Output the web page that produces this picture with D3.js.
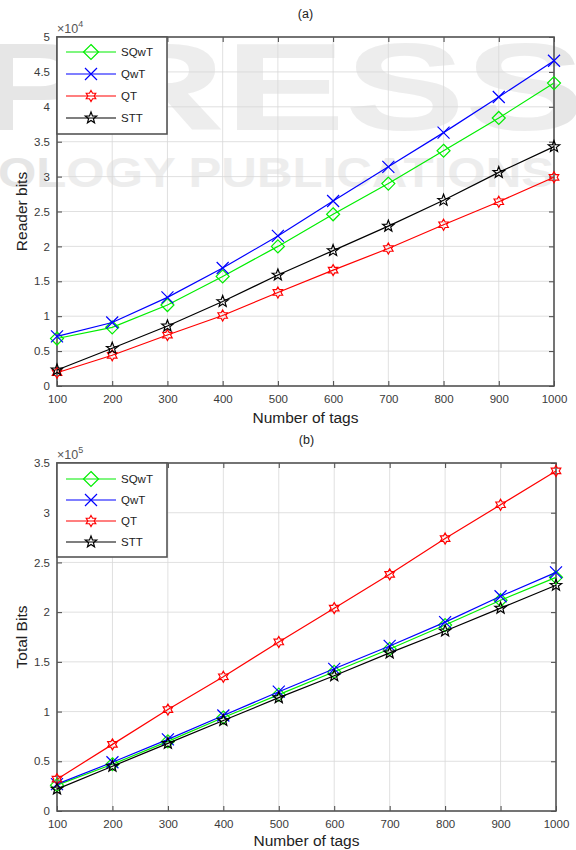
<!DOCTYPE html>
<html>
<head>
<meta charset="utf-8">
<script src="https://cdn.jsdelivr.net/npm/d3@7"></script>
<style>
  body { margin: 0; background: #fff; }
  svg { display: block; font-family: "Liberation Sans", Arial, sans-serif; }
</style>
</head>
<body>
<div id="chart"></div>
<script>
// data
const tags = [100, 200, 300, 400, 500, 600, 700, 800, 900, 1000];
const seriesNames = ["SQwT", "QwT", "QT", "STT"];

// (a) reader bits, x 1e4
const readerSQwT = [0.68, 0.84, 1.16, 1.57, 2.00, 2.46, 2.90, 3.37, 3.84, 4.34];
const readerQwT  = [0.71, 0.91, 1.27, 1.69, 2.15, 2.65, 3.14, 3.63, 4.14, 4.66];
const readerQT   = [0.19, 0.44, 0.73, 1.01, 1.34, 1.66, 1.97, 2.31, 2.64, 2.99];
const readerSTT  = [0.23, 0.54, 0.86, 1.21, 1.59, 1.94, 2.29, 2.66, 3.06, 3.43];

// (b) total bits, x 1e5
const totalSQwT = [0.26, 0.47, 0.70, 0.94, 1.17, 1.40, 1.63, 1.87, 2.12, 2.35];
const totalQwT  = [0.27, 0.49, 0.72, 0.96, 1.20, 1.43, 1.66, 1.90, 2.16, 2.40];
const totalQT   = [0.32, 0.67, 1.02, 1.35, 1.70, 2.04, 2.38, 2.74, 3.08, 3.42];
const totalSTT  = [0.22, 0.45, 0.68, 0.91, 1.14, 1.36, 1.59, 1.81, 2.04, 2.27];

const yTicks = [0, 0.5, 1, 1.5, 2, 2.5, 3, 3.5, 4, 4.5, 5];
const yTicksB = [0, 0.5, 1, 1.5, 2, 2.5, 3, 3.5];

const colors = {SQwT: "#00ee00", QwT: "#0000ff", QT: "#ff0000", STT: "#000000"};
const markers = {SQwT: "diamond", QwT: "cross", QT: "hexagram", STT: "pentagram"};

const width = 576, height = 850;

const svg = d3.select("#chart").append("svg")
    .attr("width", width)
    .attr("height", height);

// faint publisher watermark behind everything
let wm = svg.append("g").attr("class", "watermark").attr("fill", "#e6e6e6")
    .style("font-weight", "bold");
wm.append("text")
    .attr("x", -25).attr("y", 130)
    .attr("textLength", 610)
    .attr("lengthAdjust", "spacingAndGlyphs")
    .style("font-size", "124px")
    .text("PRESS");
wm.append("text")
    .attr("x", -2).attr("y", 187)
    .attr("textLength", 556)
    .attr("lengthAdjust", "spacingAndGlyphs")
    .style("font-size", "42px")
    .text("OLOGY PUBLICATIONS");

function symbolPath(kind, r){
  if (kind === "diamond"){
    return `M0,${-r}L${r},0L0,${r}L${-r},0Z`;
  }
  if (kind === "cross"){
    return `M${-r},${-r}L${r},${r}M${-r},${r}L${r},${-r}`;
  }
  let pts = [];
  let n = kind === "hexagram" ? 6 : 5;
  let inner = kind === "hexagram" ? r * 0.58 : r * 0.42;
  for (let i = 0; i < n * 2; i++){
    let a = -Math.PI / 2 + i * Math.PI / n;
    let rr = i % 2 === 0 ? r : inner;
    pts.push([rr * Math.cos(a), rr * Math.sin(a)]);
  }
  return "M" + pts.map(p => p[0].toFixed(2) + "," + p[1].toFixed(2)).join("L") + "Z";
}

const markerSize = {diamond: 6.5, cross: 6, hexagram: 5.5, pentagram: 6};

function drawPanel(cfg){
  let g = svg.append("g");

  let x = d3.scaleLinear().domain([100, 1000]).range([cfg.left, cfg.right]);
  let y = d3.scaleLinear().domain([0, cfg.yMax]).range([cfg.bottom, cfg.top]);

  // plot background
  g.append("rect")
    .attr("x", cfg.left).attr("y", cfg.top)
    .attr("width", cfg.right - cfg.left).attr("height", cfg.bottom - cfg.top)
    .attr("fill", "#fff").attr("fill-opacity", 0.3);

  // grid
  g.append("g")
    .selectAll("line.vg")
    .data(tags)
    .join("line")
    .attr("x1", d => x(d)).attr("x2", d => x(d))
    .attr("y1", cfg.top).attr("y2", cfg.bottom)
    .attr("stroke", "#d8d8d8").attr("stroke-width", 0.8);
  g.append("g")
    .selectAll("line.hg")
    .data(cfg.yTicks)
    .join("line")
    .attr("x1", cfg.left).attr("x2", cfg.right)
    .attr("y1", d => y(d)).attr("y2", d => y(d))
    .attr("stroke", "#d8d8d8").attr("stroke-width", 0.8);

  // axes, ticks inward
  let xAxis = g.append("g")
    .attr("transform", "translate(0," + cfg.bottom + ")")
    .call(d3.axisBottom(x).tickValues(tags).tickSize(-5).tickPadding(9).tickFormat(d3.format("d")));
  let yAxis = g.append("g")
    .attr("transform", "translate(" + cfg.left + ",0)")
    .call(d3.axisLeft(y).tickValues(cfg.yTicks).tickSize(-5).tickPadding(7).tickFormat(d => String(d)));
  let xTop = g.append("g")
    .attr("transform", "translate(0," + cfg.top + ")")
    .call(d3.axisTop(x).tickValues(tags).tickSize(-5).tickFormat(""));
  let yRight = g.append("g")
    .attr("transform", "translate(" + cfg.right + ",0)")
    .call(d3.axisRight(y).tickValues(cfg.yTicks).tickSize(-5).tickFormat(""));

  [xAxis, yAxis, xTop, yRight].forEach(a => {
    a.select(".domain").attr("display", "none");
    a.selectAll(".tick line").attr("stroke", "#444").attr("stroke-width", 1);
    a.selectAll(".tick text")
      .attr("fill", "#3a3a3a")
      .style("font-size", "11.5px")
      .style("font-family", "Liberation Sans, Arial, sans-serif");
  });

  // frame
  g.append("rect")
    .attr("x", cfg.left).attr("y", cfg.top)
    .attr("width", cfg.right - cfg.left).attr("height", cfg.bottom - cfg.top)
    .attr("fill", "none").attr("stroke", "#555").attr("stroke-width", 1.6);

  // exponent
  let ex = g.append("text")
    .attr("x", cfg.left).attr("y", cfg.top - 4)
    .attr("fill", "#555")
    .style("font-size", "12.5px");
  ex.append("tspan").text("\u00d710");
  ex.append("tspan").attr("dy", -6).style("font-size", "9px").text(cfg.exp);

  // series
  let line = d3.line().x((d, i) => x(tags[i])).y(d => y(d));
  seriesNames.forEach(name => {
    let vals = cfg.values[name];
    g.append("path")
      .datum(vals)
      .attr("fill", "none")
      .attr("stroke", colors[name])
      .attr("stroke-width", 1.2)
      .attr("d", line);
    g.append("g")
      .selectAll("path")
      .data(vals)
      .join("path")
      .attr("transform", (d, i) => "translate(" + x(tags[i]) + "," + y(d) + ")")
      .attr("d", symbolPath(markers[name], markerSize[markers[name]]))
      .attr("fill", "none")
      .attr("stroke", colors[name])
      .attr("stroke-width", 1.2);
  });

  // legend
  let lg = g.append("g");
  lg.append("rect")
    .attr("x", cfg.left).attr("y", cfg.top)
    .attr("width", 110).attr("height", cfg.legendH)
    .attr("fill", "#fff").attr("stroke", "#555").attr("stroke-width", 1.6);
  seriesNames.forEach((name, i) => {
    let ly = cfg.top + cfg.legendY0 + i * cfg.legendStep;
    lg.append("line")
      .attr("x1", cfg.left + 9).attr("x2", cfg.left + 59)
      .attr("y1", ly).attr("y2", ly)
      .attr("stroke", colors[name]).attr("stroke-width", 1.2);
    lg.append("path")
      .attr("transform", "translate(" + (cfg.left + 34) + "," + ly + ")")
      .attr("d", symbolPath(markers[name], markers[name] === "diamond" ? 7.5 : markerSize[markers[name]]))
      .attr("fill", "none").attr("stroke", colors[name]).attr("stroke-width", 1.2);
    lg.append("text")
      .attr("x", cfg.left + 64).attr("y", ly + 4)
      .attr("fill", "#222")
      .style("font-size", "11.5px")
      .text(name);
  });

  // titles
  g.append("text")
    .attr("x", (cfg.left + cfg.right) / 2).attr("y", cfg.top - 19)
    .attr("text-anchor", "middle")
    .attr("fill", "#222")
    .style("font-size", "12.5px")
    .text(cfg.title);
  g.append("text")
    .attr("x", (cfg.left + cfg.right) / 2).attr("y", cfg.bottom + cfg.xLabelDy)
    .attr("text-anchor", "middle")
    .attr("fill", "#222")
    .style("font-size", "15.5px")
    .text("Number of tags");
  g.append("text")
    .attr("transform", "translate(27," + (cfg.top + cfg.bottom) / 2 + ") rotate(-90)")
    .attr("text-anchor", "middle")
    .attr("fill", "#222")
    .style("font-size", "15.5px")
    .text(cfg.yLabel);
}

drawPanel({
  left: 57, right: 554, top: 37, bottom: 386,
  yMax: 5, yTicks: yTicks, exp: "4",
  title: "(a)", yLabel: "Reader bits", xLabelDy: 37,
  legendH: 97, legendY0: 15, legendStep: 22,
  values: {SQwT: readerSQwT, QwT: readerQwT, QT: readerQT, STT: readerSTT}
});

drawPanel({
  left: 57, right: 556, top: 463, bottom: 811,
  yMax: 3.5, yTicks: yTicksB, exp: "5",
  title: "(b)", yLabel: "Total Bits", xLabelDy: 35,
  legendH: 94, legendY0: 16, legendStep: 21,
  values: {SQwT: totalSQwT, QwT: totalQwT, QT: totalQT, STT: totalSTT}
});
</script>
</body>
</html>
